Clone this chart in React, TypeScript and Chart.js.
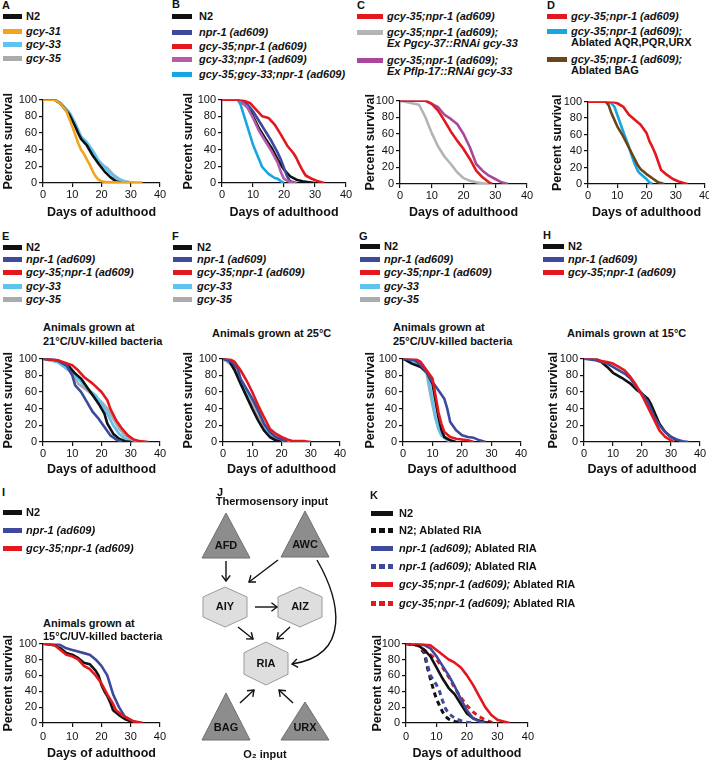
import React, { useEffect, useRef } from 'react';
import { Chart, registerables } from 'chart.js';
Chart.register(...registerables);

const FONT = "'Liberation Sans', Arial, Helvetica, sans-serif";
Chart.defaults.font.family = FONT;

// ---------- colours ----------
const BLACK = '#111111';
const RED = '#e2181e';
const NAVY = '#3d4a9c';
const SKY = '#5ec3ee';
const GREY = '#ababab';
const ORANGE = '#f2a41d';
const MAGENTA = '#b65aa9';
const CYAN = '#17a6e0';
const PURPLE = '#a8479c';
const BROWN = '#6b4418';

// ---------- axis ticks ----------
const X_TICKS = [0, 10, 20, 30, 40];
const Y_TICKS = [0, 20, 40, 60, 80, 100];

// ---------- data: [day, percent survival] ----------
const A_N2 = [[0,100],[4,100],[6,95],[9,82],[11,68],[12,60],[13,53],[15,45],[17,33],[19,23],[21,14],[23,7],[25,2],[27,0]];
const A_GCY31 = [[0,100],[4,100],[6,95],[8,86],[10,68],[11,58],[12,48],[13,40],[14,35],[15,28],[16,22],[17,14],[18,8],[19,4],[20,2],[22,1],[26,0.5],[34,0.5]];
const A_GCY33 = [[0,100],[4,100],[6,96],[9,85],[11,72],[12,64],[13,56],[15,49],[17,39],[19,27],[21,19],[23,12],[25,6],[27,3],[29,1],[31,0]];
const A_GCY35 = [[0,100],[4,100],[6,95],[9,83],[11,70],[12,62],[13,55],[15,47],[17,36],[19,26],[21,20],[22,18],[24,10],[26,5],[28,2],[30,1],[32,0]];

const B_N2 = [[0,100],[5,100],[7,95],[9,88],[10,80],[12,65],[14,53],[16,42],[18,28],[20,16],[22,8],[24,4],[26,2],[28,1],[30,0]];
const B_NPR1 = [[0,100],[5,100],[8,95],[10,86],[12,74],[14,62],[16,50],[18,36],[19,28],[20,18],[21,8],[22,2],[24,0]];
const B_G35NPR1 = [[0,100],[6,100],[9,96],[11,88],[13,80],[15,78],[17,70],[19,58],[21,45],[23,36],[24,30],[25,22],[26,15],[27,9],[29,5],[31,2],[33,0]];
const B_G33NPR1 = [[0,100],[5,100],[8,92],[10,78],[12,62],[14,50],[16,38],[18,24],[19,13],[20,5],[22,1],[24,0]];
const B_G35G33NPR1 = [[0,100],[5,100],[6,94],[8,70],[10,46],[12,28],[13,19],[15,11],[17,6],[18,5],[19,2],[20,0]];

const C_G35NPR1 = [[0,100],[8,100],[10,96],[12,88],[14,76],[16,63],[18,52],[20,42],[22,30],[24,16],[26,8],[28,2],[29,0]];
const C_PGCY37 = [[0,100],[6,95],[8,80],[10,61],[12,45],[14,33],[16,24],[18,14],[20,7],[22,4],[24,2],[26,1],[28,0]];
const C_PFLP17 = [[0,100],[8,100],[10,96],[12,92],[14,83],[16,78],[18,72],[20,60],[22,44],[24,24],[26,16],[28,10],[30,6],[32,2],[34,0]];

const D_G35NPR1 = [[0,100],[8,100],[10,98],[12,94],[14,84],[16,78],[18,72],[20,62],[21,52],[22,45],[23,37],[24,27],[25,17],[27,11],[29,6],[31,3],[33,1],[34,0]];
const D_AQR = [[0,100],[6,100],[8,98],[9,94],[10,84],[12,64],[14,45],[15,34],[16,24],[17,16],[18,12],[20,6],[21,2],[22,0]];
const D_BAG = [[0,100],[6,100],[7,96],[8,86],[10,70],[12,58],[14,44],[16,30],[17,23],[18,18],[20,12],[22,7],[24,2],[26,0]];

const E_N2 = [[0,100],[5,98],[9,90],[11,82],[13,76],[15,66],[17,56],[19,46],[21,34],[22,22],[24,10],[26,4],[28,1],[30,0]];
const E_NPR1 = [[0,100],[5,98],[8,92],[10,80],[11,68],[13,60],[15,48],[17,36],[19,28],[21,18],[23,8],[25,3],[27,0]];
const E_G35NPR1 = [[0,100],[5,98],[10,92],[12,86],[14,78],[17,70],[20,60],[22,50],[23,40],[25,26],[27,16],[29,8],[31,3],[33,1],[36,0]];
const E_GCY33 = [[0,100],[5,96],[8,88],[11,80],[13,72],[15,64],[18,56],[20,46],[22,34],[24,20],[26,10],[28,4],[30,0]];
const E_GCY35 = [[0,100],[5,96],[9,86],[11,76],[12,70],[15,62],[18,54],[20,48],[22,40],[24,28],[26,16],[28,8],[30,3],[33,0]];

const F_N2 = [[0,100],[2,98],[4,86],[6,70],[8,55],[10,40],[12,26],[14,14],[16,6],[18,2],[20,0]];
const F_NPR1 = [[0,100],[3,96],[5,88],[6,76],[8,64],[10,52],[12,38],[14,22],[16,12],[18,6],[20,3],[22,0]];
const F_G35NPR1 = [[0,100],[2,100],[4,96],[6,86],[8,74],[10,60],[12,44],[14,30],[16,16],[18,10],[20,6],[22,3],[24,1],[28,1],[30,0]];
const F_GCY33 = [[0,100],[3,94],[5,82],[7,68],[9,56],[11,46],[13,30],[15,14],[17,8],[19,5],[21,2],[23,0]];
const F_GCY35 = [[0,100],[3,92],[5,78],[7,64],[9,52],[11,40],[13,26],[15,12],[17,6],[19,2],[21,0]];

const G_N2 = [[0,100],[3,94],[6,90],[8,84],[10,70],[11,50],[12,30],[13,15],[14,6],[16,2],[18,0]];
const G_NPR1 = [[0,100],[4,98],[6,92],[8,84],[10,72],[12,62],[14,52],[15,40],[16,24],[18,14],[20,8],[22,6],[24,5],[26,2],[28,0]];
const G_G35NPR1 = [[0,100],[4,100],[6,96],[8,86],[10,76],[11,56],[12,36],[13,22],[14,12],[16,6],[18,4],[20,3],[22,2],[24,0]];
const G_GCY33 = [[0,100],[4,96],[6,92],[8,84],[9,70],[10,50],[11,30],[12,16],[13,8],[15,3],[17,0]];
const G_GCY35 = [[0,100],[4,96],[6,90],[8,82],[9,62],[10,44],[11,28],[12,16],[13,8],[15,2],[17,0]];

const H_N2 = [[0,100],[4,100],[6,96],[8,90],[10,83],[13,77],[16,70],[18,63],[20,58],[22,52],[23,46],[24,38],[25,30],[26,22],[28,12],[30,6],[32,2],[34,0]];
const H_NPR1 = [[0,100],[4,98],[6,96],[8,94],[10,90],[12,86],[14,82],[16,76],[18,66],[20,58],[22,48],[23,40],[24,32],[26,20],[28,12],[30,6],[32,3],[34,1],[36,0]];
const H_G35NPR1 = [[0,100],[4,100],[6,97],[8,96],[10,94],[12,90],[14,86],[16,78],[18,68],[20,56],[22,42],[24,28],[26,14],[28,6],[30,2],[31,0]];

const I_N2 = [[0,100],[4,98],[6,94],[8,88],[10,86],[12,82],[14,76],[16,74],[18,66],[19,60],[20,48],[21,40],[22,34],[23,26],[24,16],[26,10],[28,5],[30,2],[32,0]];
const I_NPR1 = [[0,100],[5,100],[6,98],[8,94],[10,92],[12,90],[14,88],[16,86],[18,80],[20,72],[22,60],[23,48],[24,36],[25,28],[26,20],[28,8],[30,3],[32,1],[34,0]];
const I_G35NPR1 = [[0,100],[4,98],[6,92],[8,86],[10,84],[12,80],[14,72],[16,68],[18,60],[20,50],[22,36],[24,24],[25,16],[27,10],[29,6],[31,2],[33,1],[34,0]];

const K_N2 = [[0,100],[4,98],[6,92],[8,84],[10,70],[12,56],[14,44],[16,36],[18,24],[20,12],[22,6],[24,3],[26,1],[28,0]];
const K_N2_RIA = [[0,100],[4,98],[6,88],[7,70],[8,56],[9,42],[10,30],[11,22],[12,14],[13,8],[14,5],[16,2],[18,0]];
const K_NPR1 = [[0,100],[4,100],[6,98],[8,94],[10,84],[12,72],[14,60],[16,46],[18,30],[20,16],[22,6],[24,2],[26,0]];
const K_NPR1_RIA = [[0,100],[4,98],[6,90],[7,74],[8,60],[10,48],[11,40],[12,28],[13,18],[14,12],[16,6],[18,3],[20,1],[22,0]];
const K_G35NPR1 = [[0,100],[4,100],[8,98],[10,92],[12,86],[14,80],[16,76],[18,70],[20,60],[22,48],[24,34],[26,20],[28,10],[30,4],[32,2],[34,0]];
const K_G35NPR1_RIA = [[0,100],[4,98],[6,92],[8,86],[10,80],[12,70],[14,58],[16,44],[18,32],[20,22],[22,14],[24,8],[26,4],[28,1],[30,0]];

// ---------- circuit diagram (panel J) ----------
const J_NODES = ['AFD', 'AWC', 'AIY', 'AIZ', 'RIA', 'BAG', 'URX'];
const J_KIND = ['tri', 'tri', 'hex', 'hex', 'hex', 'tri', 'tri'];
const J_X = [226, 305, 225, 300, 266, 226, 305];
const J_TOP = [513, 511, 587, 587, 642, 693, 702];
const J_BOTTOM = [558, 557, 627, 627, 685, 740, 740];
const J_ARROWS = [
  [226, 561, 226, 581],
  [278, 560, 249, 582],
  [255, 607, 277, 607],
  [238, 627, 253, 639],
  [290, 627, 277, 639],
  [240, 703, 254, 690],
  [293, 703, 279, 690],
];
const J_CURVE = [317, 560, 340, 600, 352, 655, 292, 664];

type Series = { c: string; d: number[][]; dash?: number[]; w?: number };
type Panel = {
  px0: number; px1: number; py100: number; py0: number;
  tx: number; titleY: number; tickPad: number; series: Series[];
};

const PANELS: Panel[] = [
  { px0: 43, px1: 160, py100: 99, py0: 183, tx: 8, titleY: 212, tickPad: 1,
    series: [{ c: GREY, d: A_GCY35 }, { c: SKY, d: A_GCY33 }, { c: BLACK, d: A_N2 }, { c: ORANGE, d: A_GCY31 }].reverse() },
  { px0: 222, px1: 346, py100: 99, py0: 183, tx: 188, titleY: 212, tickPad: 1,
    series: [{ c: BLACK, d: B_N2 }, { c: NAVY, d: B_NPR1 }, { c: MAGENTA, d: B_G33NPR1 }, { c: CYAN, d: B_G35G33NPR1 }, { c: RED, d: B_G35NPR1 }].reverse() },
  { px0: 400, px1: 527, py100: 100, py0: 184, tx: 370, titleY: 212, tickPad: 1,
    series: [{ c: '#b4b4b4', d: C_PGCY37 }, { c: PURPLE, d: C_PFLP17 }, { c: RED, d: C_G35NPR1 }].reverse() },
  { px0: 588, px1: 705, py100: 101, py0: 184, tx: 557, titleY: 212, tickPad: 1,
    series: [{ c: CYAN, d: D_AQR }, { c: BROWN, d: D_BAG }, { c: RED, d: D_G35NPR1 }].reverse() },
  { px0: 43, px1: 160, py100: 358, py0: 442, tx: 8, titleY: 469, tickPad: 1,
    series: [{ c: GREY, d: E_GCY35 }, { c: SKY, d: E_GCY33 }, { c: BLACK, d: E_N2 }, { c: NAVY, d: E_NPR1 }, { c: RED, d: E_G35NPR1 }].reverse() },
  { px0: 223, px1: 340, py100: 358, py0: 442, tx: 188, titleY: 469, tickPad: 1,
    series: [{ c: GREY, d: F_GCY35 }, { c: SKY, d: F_GCY33 }, { c: BLACK, d: F_N2 }, { c: NAVY, d: F_NPR1 }, { c: RED, d: F_G35NPR1 }].reverse() },
  { px0: 403, px1: 521, py100: 358, py0: 442, tx: 370, titleY: 469, tickPad: 1,
    series: [{ c: GREY, d: G_GCY35 }, { c: SKY, d: G_GCY33 }, { c: BLACK, d: G_N2 }, { c: NAVY, d: G_NPR1 }, { c: RED, d: G_G35NPR1 }].reverse() },
  { px0: 584, px1: 700, py100: 358, py0: 442, tx: 553, titleY: 469, tickPad: 1,
    series: [{ c: BLACK, d: H_N2 }, { c: NAVY, d: H_NPR1 }, { c: RED, d: H_G35NPR1 }].reverse() },
  { px0: 43, px1: 160, py100: 643, py0: 723, tx: 8, titleY: 753, tickPad: 3,
    series: [{ c: NAVY, d: I_NPR1 }, { c: BLACK, d: I_N2 }, { c: RED, d: I_G35NPR1 }].reverse() },
  { px0: 406, px1: 528, py100: 643, py0: 723, tx: 377, titleY: 753, tickPad: 3,
    series: [
      { c: BLACK, d: K_N2_RIA, dash: [5, 4], w: 3 }, { c: NAVY, d: K_NPR1_RIA, dash: [5, 4], w: 3 },
      { c: RED, d: K_G35NPR1_RIA, dash: [5, 4], w: 3 },
      { c: BLACK, d: K_N2 }, { c: NAVY, d: K_NPR1 }, { c: RED, d: K_G35NPR1 },
    ].reverse() },
];

const PAD_T = 8;
const PAD_R = 9;

function SurvivalChart({ p }: { p: Panel }) {
  const ref = useRef<HTMLCanvasElement>(null);
  const left = Math.round(p.tx - 7.5);
  const top = p.py100 - PAD_T;
  const w = p.px1 - left + PAD_R;
  const plotH = p.py0 - p.py100;
  const h = Math.round(p.titleY - p.py0 + 7.5) + PAD_T + plotH;
  const hx = h - PAD_T - plotH;
  const wy = p.px0 - left;
  useEffect(() => {
    const tickFont = { family: FONT, size: 11 };
    const titleFont = { family: FONT, size: 12.5, weight: 'bold' as const };
    const chart = new Chart(ref.current as HTMLCanvasElement, {
      type: 'line',
      data: {
        datasets: p.series.map((s) => ({
          data: s.d.map(([x, y]) => ({ x, y })),
          borderColor: s.c,
          borderWidth: s.w ?? 2.6,
          borderDash: s.dash ?? [],
          pointRadius: 0,
          fill: false,
          tension: 0,
          borderJoinStyle: 'round' as const,
        })),
      },
      options: {
        responsive: false,
        animation: false,
        events: [],
        layout: { padding: { left: 0, right: PAD_R, top: PAD_T, bottom: 0 } },
        plugins: { legend: { display: false }, tooltip: { enabled: false } },
        scales: {
          x: {
            type: 'linear',
            min: X_TICKS[0],
            max: X_TICKS[X_TICKS.length - 1],
            afterBuildTicks: (s: any) => { s.ticks = X_TICKS.map((v) => ({ value: v })); },
            ticks: { font: tickFont, color: '#111', padding: p.tickPad, maxRotation: 0, autoSkip: false },
            grid: { drawOnChartArea: false, tickLength: 4, color: '#111', lineWidth: 1.2 },
            border: { color: '#111', width: 1.3 },
            title: { display: true, text: 'Days of adulthood', font: titleFont, color: '#111', padding: 0 },
            afterFit: (s: any) => { s.height = hx; },
          },
          y: {
            type: 'linear',
            min: Y_TICKS[0],
            max: Y_TICKS[Y_TICKS.length - 1],
            afterBuildTicks: (s: any) => { s.ticks = Y_TICKS.map((v) => ({ value: v })); },
            ticks: { font: tickFont, color: '#111', padding: 2, autoSkip: false },
            grid: { drawOnChartArea: false, tickLength: 4, color: '#111', lineWidth: 1.2 },
            border: { color: '#111', width: 1.3 },
            title: { display: true, text: 'Percent survival', font: titleFont, color: '#111', padding: 0 },
            afterFit: (s: any) => { s.width = wy; },
          },
        },
      },
    });
    return () => chart.destroy();
  }, [p]);
  return (
    <canvas
      ref={ref}
      width={w}
      height={h}
      style={{ position: 'absolute', left, top, width: w, height: h }}
    />
  );
}

const diagramPlugin = {
  id: 'circuit',
  afterDatasetsDraw(chart: any) {
    const ctx = chart.ctx as CanvasRenderingContext2D;
    const X = (v: number) => chart.scales.x.getPixelForValue(v);
    const Y = (v: number) => chart.scales.y.getPixelForValue(v);
    ctx.save();
    J_NODES.forEach((name, i) => {
      const cx = X(J_X[i]);
      const t = Y(J_TOP[i]);
      const b = Y(J_BOTTOM[i]);
      ctx.beginPath();
      if (J_KIND[i] === 'tri') {
        const hw = X(J_X[i] + 24) - cx;
        ctx.moveTo(cx, t);
        ctx.lineTo(cx + hw, b);
        ctx.lineTo(cx - hw, b);
        ctx.closePath();
        ctx.fillStyle = '#8d8d8d';
        ctx.strokeStyle = '#6f6f6f';
      } else {
        const hw = X(J_X[i] + 22) - cx;
        const hh = (b - t) / 2;
        const cy = t + hh;
        ctx.moveTo(cx, t);
        ctx.lineTo(cx + hw, cy - hh / 2);
        ctx.lineTo(cx + hw, cy + hh / 2);
        ctx.lineTo(cx, b);
        ctx.lineTo(cx - hw, cy + hh / 2);
        ctx.lineTo(cx - hw, cy - hh / 2);
        ctx.closePath();
        ctx.fillStyle = '#dedede';
        ctx.strokeStyle = '#9a9a9a';
      }
      ctx.lineWidth = 1;
      ctx.fill();
      ctx.stroke();
      ctx.fillStyle = '#111';
      ctx.font = `bold 11px ${FONT}`;
      ctx.textAlign = 'center';
      ctx.textBaseline = 'middle';
      const ly = J_KIND[i] === 'tri' ? b - 12 : (t + b) / 2;
      ctx.fillText(name, cx, ly);
    });
    const head = (x1: number, y1: number, x2: number, y2: number) => {
      const a = Math.atan2(y2 - y1, x2 - x1);
      const L = 7;
      ctx.beginPath();
      ctx.moveTo(x2 - L * Math.cos(a - 0.65), y2 - L * Math.sin(a - 0.65));
      ctx.lineTo(x2, y2);
      ctx.lineTo(x2 - L * Math.cos(a + 0.65), y2 - L * Math.sin(a + 0.65));
      ctx.stroke();
    };
    ctx.strokeStyle = '#111';
    ctx.lineWidth = 1.4;
    J_ARROWS.forEach(([x1, y1, x2, y2]) => {
      ctx.beginPath();
      ctx.moveTo(X(x1), Y(y1));
      ctx.lineTo(X(x2), Y(y2));
      ctx.stroke();
      head(X(x1), Y(y1), X(x2), Y(y2));
    });
    const c = J_CURVE;
    ctx.beginPath();
    ctx.moveTo(X(c[0]), Y(c[1]));
    ctx.bezierCurveTo(X(c[2]), Y(c[3]), X(c[4]), Y(c[5]), X(c[6]), Y(c[7]));
    ctx.stroke();
    head(X(c[4]), Y(c[5]), X(c[6]), Y(c[7]));
    ctx.restore();
  },
};

function Diagram() {
  const ref = useRef<HTMLCanvasElement>(null);
  useEffect(() => {
    const chart = new Chart(ref.current as HTMLCanvasElement, {
      type: 'scatter',
      data: { datasets: [{ data: J_X.map((x, i) => ({ x, y: (J_TOP[i] + J_BOTTOM[i]) / 2 })), pointRadius: 0 }] },
      options: {
        responsive: false,
        animation: false,
        events: [],
        layout: { padding: 0 },
        plugins: { legend: { display: false }, tooltip: { enabled: false } },
        scales: {
          x: { type: 'linear', min: 200, max: 350, display: false },
          y: { type: 'linear', min: 490, max: 760, reverse: true, display: false },
        },
      },
      plugins: [diagramPlugin],
    });
    return () => chart.destroy();
  }, []);
  return <canvas ref={ref} width={150} height={270} style={{ position: 'absolute', left: 200, top: 490, width: 150, height: 270 }} />;
}

// ---------- text helpers ----------
function Txt({ x, y, children, center, size }: { x: number; y: number; children: any; center?: boolean; size?: number }) {
  return (
    <div
      style={{
        position: 'absolute',
        left: center ? x - 100 : x,
        width: center ? 200 : undefined,
        textAlign: center ? 'center' : 'left',
        top: y - 6.5,
        lineHeight: '13px',
        fontSize: size ?? 11,
        fontWeight: 'bold',
        fontFamily: FONT,
        color: '#111',
        whiteSpace: 'nowrap',
      }}
    >
      {children}
    </div>
  );
}

type LegendItem = { c: string; y: number; lines: any[]; dash?: boolean };
function Legend({ x0, x1, tx, items }: { x0: number; x1: number; tx: number; items: LegendItem[] }) {
  return (
    <>
      {items.map((it, i) => (
        <React.Fragment key={i}>
          <div
            style={{
              position: 'absolute',
              left: x0,
              top: it.y - 2.5,
              width: x1 - x0,
              height: 5,
              background: it.dash
                ? `repeating-linear-gradient(90deg, ${it.c} 0px, ${it.c} 5px, transparent 5px, transparent 8.5px)`
                : it.c,
            }}
          />
          {it.lines.map((ln, j) => (
            <Txt key={j} x={tx} y={it.y + j * 11.5}>{ln}</Txt>
          ))}
        </React.Fragment>
      ))}
    </>
  );
}

const I = ({ children }: { children: any }) => <i>{children}</i>;

export default function App() {
  return (
    <div style={{ position: 'fixed', left: 0, top: 0, width: 709, height: 760, background: '#fff', overflow: 'hidden' }}>
      {PANELS.map((p, i) => <SurvivalChart key={i} p={p} />)}
      <Diagram />

      {/* panel letters */}
      <Txt x={2} y={5}>A</Txt>
      <Txt x={172} y={4}>B</Txt>
      <Txt x={357} y={5}>C</Txt>
      <Txt x={547} y={5}>D</Txt>
      <Txt x={2} y={236}>E</Txt>
      <Txt x={172} y={236}>F</Txt>
      <Txt x={359} y={236}>G</Txt>
      <Txt x={543} y={235}>H</Txt>
      <Txt x={2} y={492}>I</Txt>
      <Txt x={217} y={492}>J</Txt>
      <Txt x={370} y={495}>K</Txt>

      {/* legends */}
      <Legend x0={3} x1={22} tx={26} items={[
        { c: BLACK, y: 16, lines: ['N2'] },
        { c: ORANGE, y: 31, lines: [<I>gcy-31</I>] },
        { c: SKY, y: 44, lines: [<I>gcy-33</I>] },
        { c: GREY, y: 58, lines: [<I>gcy-35</I>] },
      ]} />
      <Legend x0={172} x1={192} tx={199} items={[
        { c: BLACK, y: 16, lines: ['N2'] },
        { c: NAVY, y: 32, lines: [<I>npr-1 (ad609)</I>] },
        { c: RED, y: 46, lines: [<I>gcy-35;npr-1 (ad609)</I>] },
        { c: MAGENTA, y: 59, lines: [<I>gcy-33;npr-1 (ad609)</I>] },
        { c: CYAN, y: 74, lines: [<I>gcy-35;gcy-33;npr-1 (ad609)</I>] },
      ]} />
      <Legend x0={357} x1={383} tx={387} items={[
        { c: RED, y: 16, lines: [<I>gcy-35;npr-1 (ad609)</I>] },
        { c: '#b4b4b4', y: 32, lines: [<I>gcy-35;npr-1 (ad609);</I>, <I>Ex Pgcy-37::RNAi gcy-33</I>] },
        { c: PURPLE, y: 60, lines: [<I>gcy-35;npr-1 (ad609);</I>, <I>Ex Pflp-17::RNAi gcy-33</I>] },
      ]} />
      <Legend x0={547} x1={567} tx={571} items={[
        { c: RED, y: 16, lines: [<I>gcy-35;npr-1 (ad609)</I>] },
        { c: CYAN, y: 31, lines: [<I>gcy-35;npr-1 (ad609);</I>, 'Ablated AQR,PQR,URX'] },
        { c: BROWN, y: 59, lines: [<I>gcy-35;npr-1 (ad609);</I>, 'Ablated BAG'] },
      ]} />
      <Legend x0={3} x1={22} tx={26} items={[
        { c: BLACK, y: 247, lines: ['N2'] },
        { c: NAVY, y: 259, lines: [<I>npr-1 (ad609)</I>] },
        { c: RED, y: 272, lines: [<I>gcy-35;npr-1 (ad609)</I>] },
        { c: SKY, y: 286, lines: [<I>gcy-33</I>] },
        { c: GREY, y: 299, lines: [<I>gcy-35</I>] },
      ]} />
      <Legend x0={173} x1={192} tx={197} items={[
        { c: BLACK, y: 247, lines: ['N2'] },
        { c: NAVY, y: 259, lines: [<I>npr-1 (ad609)</I>] },
        { c: RED, y: 272, lines: [<I>gcy-35;npr-1 (ad609)</I>] },
        { c: SKY, y: 286, lines: [<I>gcy-33</I>] },
        { c: GREY, y: 299, lines: [<I>gcy-35</I>] },
      ]} />
      <Legend x0={360} x1={380} tx={384} items={[
        { c: BLACK, y: 246, lines: ['N2'] },
        { c: NAVY, y: 259, lines: [<I>npr-1 (ad609)</I>] },
        { c: RED, y: 272, lines: [<I>gcy-35;npr-1 (ad609)</I>] },
        { c: SKY, y: 286, lines: [<I>gcy-33</I>] },
        { c: GREY, y: 299, lines: [<I>gcy-35</I>] },
      ]} />
      <Legend x0={543} x1={564} tx={568} items={[
        { c: BLACK, y: 246, lines: ['N2'] },
        { c: NAVY, y: 259, lines: [<I>npr-1 (ad609)</I>] },
        { c: RED, y: 272, lines: [<I>gcy-35;npr-1 (ad609)</I>] },
      ]} />
      <Legend x0={3} x1={22} tx={26} items={[
        { c: BLACK, y: 512, lines: ['N2'] },
        { c: NAVY, y: 530, lines: [<I>npr-1 (ad609)</I>] },
        { c: RED, y: 548, lines: [<I>gcy-35;npr-1 (ad609)</I>] },
      ]} />
      <Legend x0={371} x1={393} tx={399} items={[
        { c: BLACK, y: 513, lines: ['N2'] },
        { c: BLACK, y: 530, dash: true, lines: [<>N2; Ablated RIA</>] },
        { c: NAVY, y: 548, lines: [<><I>npr-1 (ad609);</I> Ablated RIA</>] },
        { c: NAVY, y: 566, dash: true, lines: [<><I>npr-1 (ad609);</I> Ablated RIA</>] },
        { c: RED, y: 584, lines: [<><I>gcy-35;npr-1 (ad609);</I> Ablated RIA</>] },
        { c: RED, y: 603, dash: true, lines: [<><I>gcy-35;npr-1 (ad609);</I> Ablated RIA</>] },
      ]} />

      {/* condition titles */}
      <Txt x={43} y={327}>Animals grown at</Txt>
      <Txt x={43} y={341}>21°C/UV-killed bacteria</Txt>
      <Txt x={212} y={333}>Animals grown at 25°C</Txt>
      <Txt x={393} y={327}>Animals grown at</Txt>
      <Txt x={393} y={341}>25°C/UV-killed bacteria</Txt>
      <Txt x={567} y={333}>Animals grown at 15°C</Txt>
      <Txt x={43} y={623}>Animals grown at</Txt>
      <Txt x={43} y={636}>15°C/UV-killed bacteria</Txt>

      {/* diagram headers */}
      <Txt x={272} y={501} center>Thermosensory input</Txt>
      <Txt x={265} y={754} center>O₂ input</Txt>
    </div>
  );
}
